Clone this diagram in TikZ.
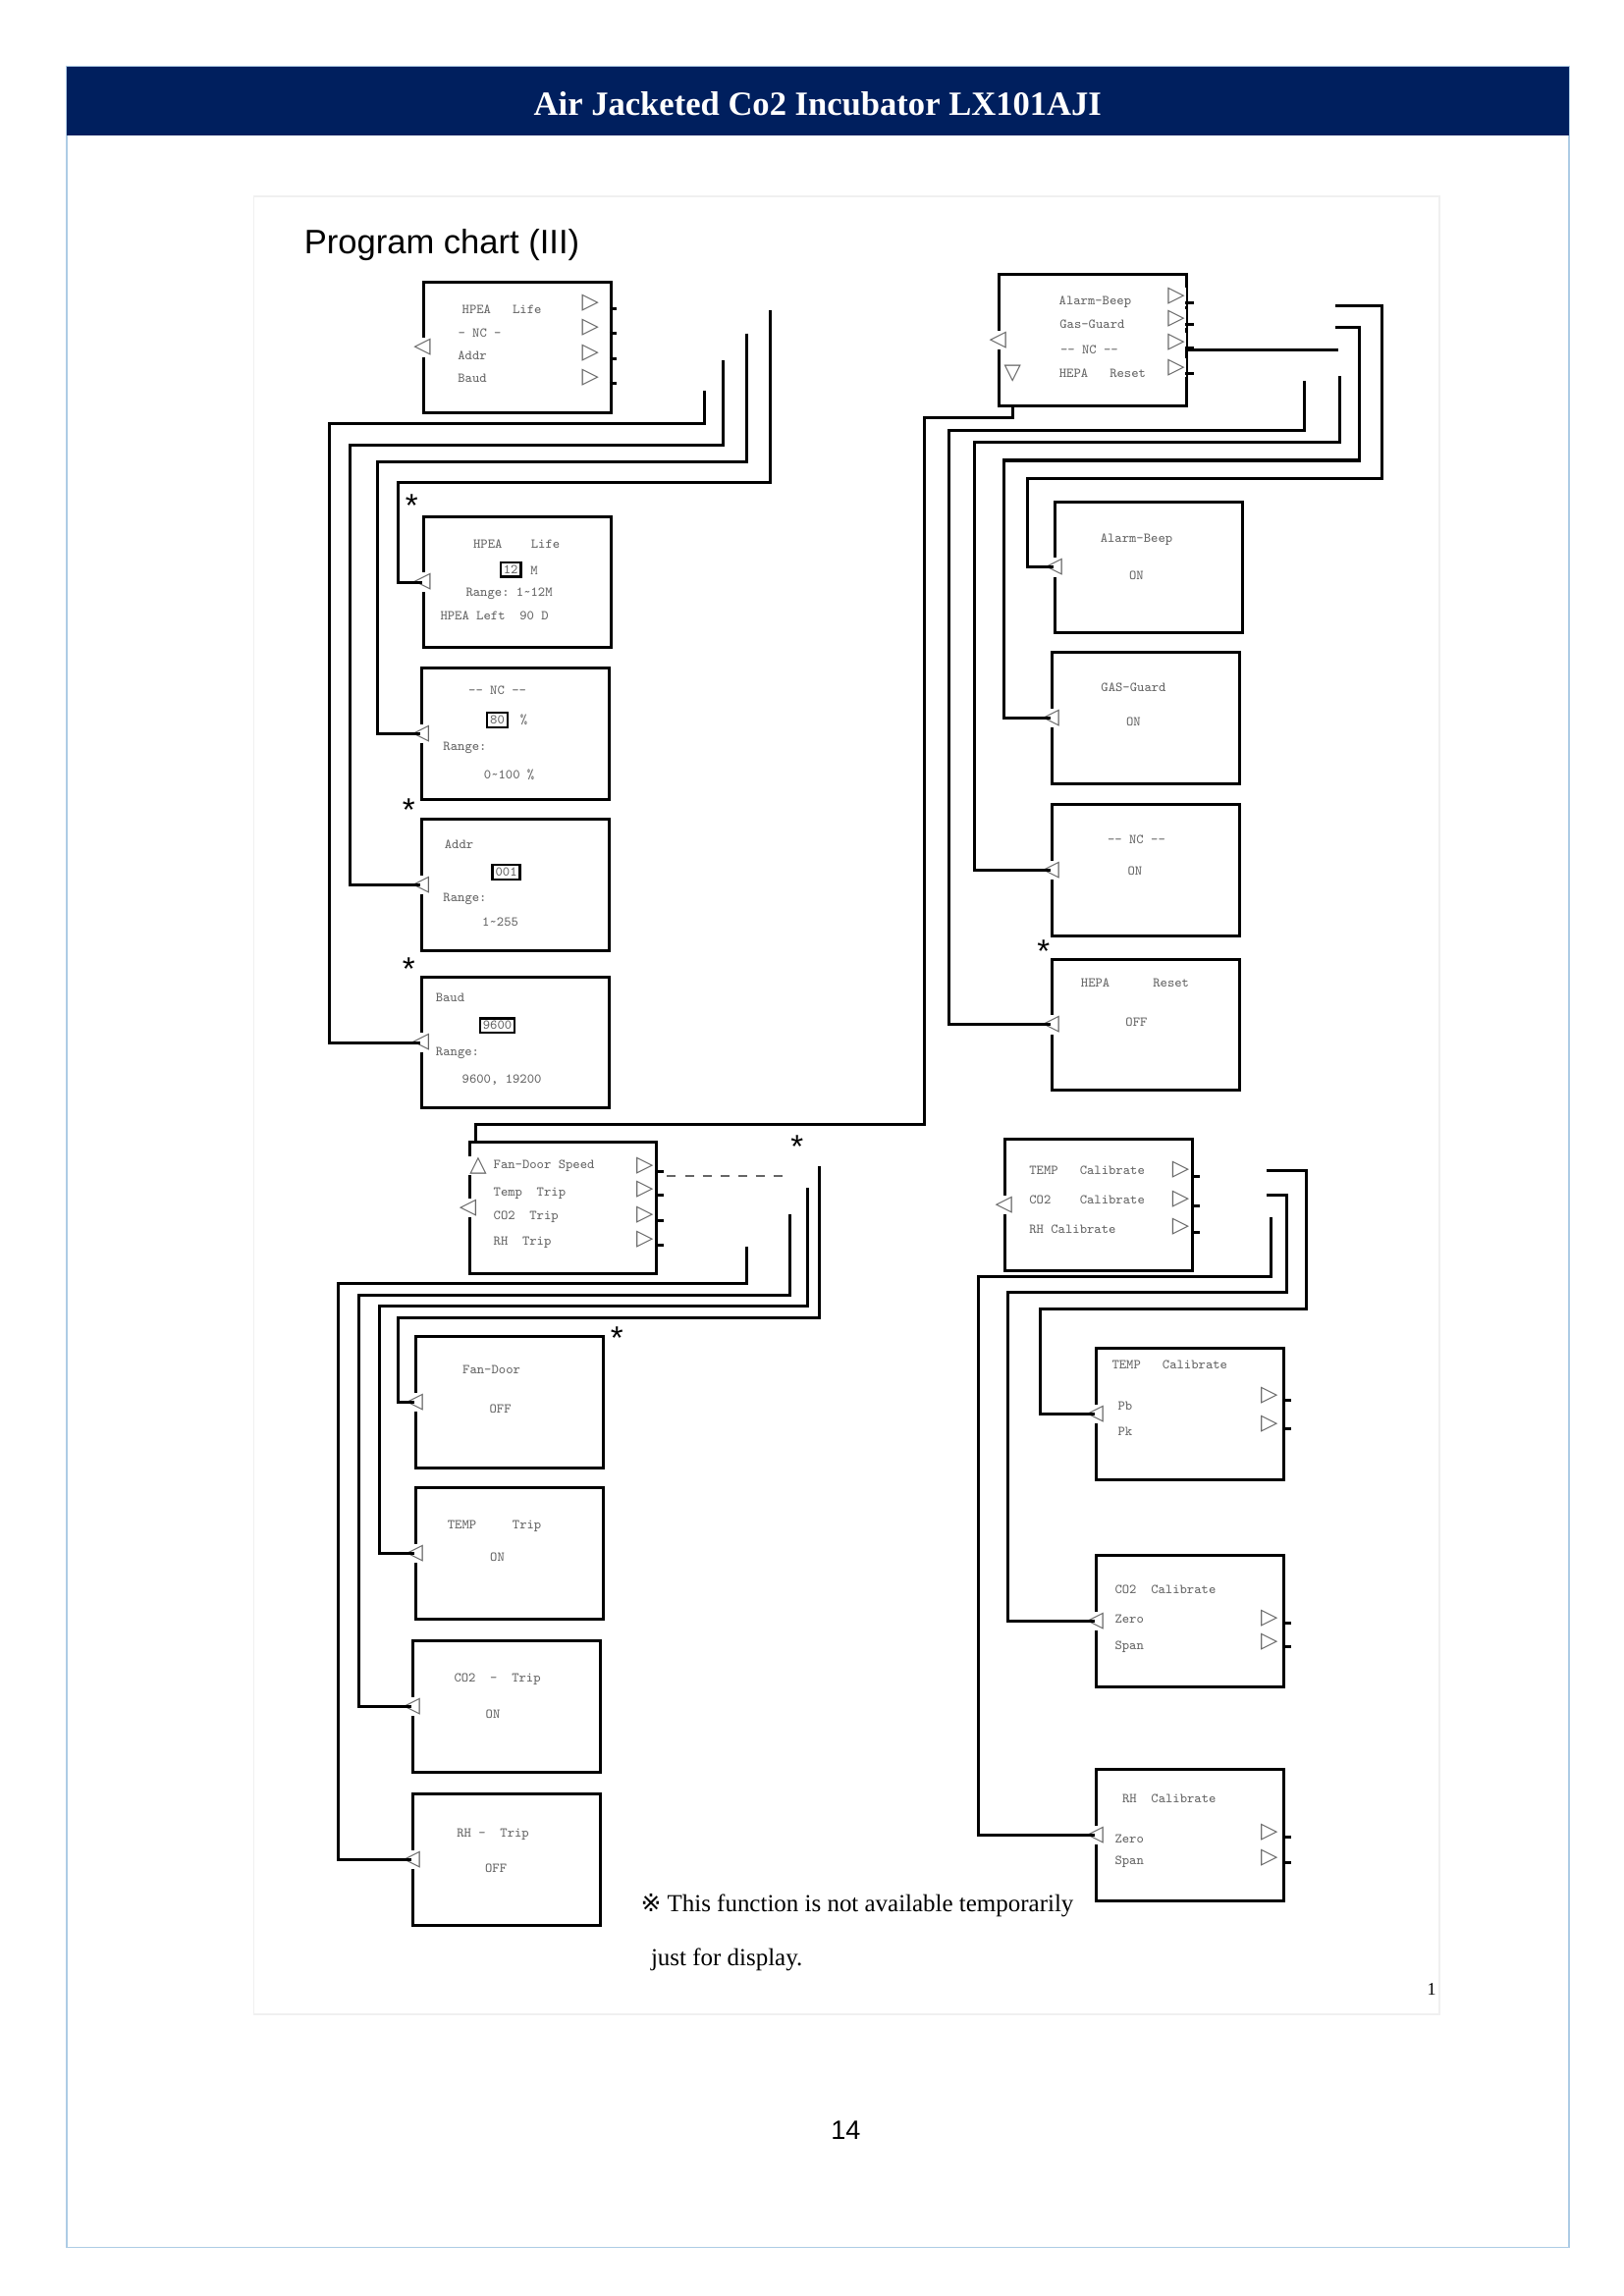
\documentclass[tikz,border=0pt]{standalone}
\usepackage{fontspec}
\setmainfont{Liberation Serif}
\setsansfont{Liberation Sans}
\newfontfamily\symfont{DejaVu Sans}
\usetikzlibrary{positioning}
\definecolor{navy}{rgb}{0.0,0.12,0.37}
\definecolor{pagerule}{rgb}{0.68,0.80,0.90}
\definecolor{lcdtext}{rgb}{0.40,0.40,0.40}
\tikzset{
  screen/.style={draw, line width=1pt, minimum width=63.5pt, minimum height=44.5pt, anchor=north west, inner sep=0pt},
  wire/.style={line width=1pt},
  lcd/.style={text=lcdtext, font=\fontsize{4.6}{5}\selectfont\ttfamily, inner sep=0pt},
  val/.style={draw, line width=0.8pt, lcd, inner sep=1pt, text=lcdtext},
  tri/.style={text=lcdtext, font=\fontsize{7.5}{7.5}\selectfont\symfont, inner sep=0.3pt, fill=white},
  star/.style={font=\fontsize{11}{11}\selectfont\sffamily, inner sep=0pt}
}
\begin{document}
\begin{tikzpicture}[x=0.5pt,y=-0.5pt]
\useasboundingbox (0,0) rectangle (1100,1556);
%% page frame and header
\draw[pagerule, line width=0.6pt] (45,45) rectangle (1063,1523);
\fill[navy] (45,45) rectangle (1063,92);
\node[text=white, font=\bfseries\fontsize{11.5}{12}\selectfont] (title) at (554,70) {Air Jacketed Co2 Incubator LX101AJI};
\draw[black!6, line width=0.6pt] (172,133) rectangle (975,1365);
\node[anchor=west, font=\sffamily\fontsize{11.5}{12}\selectfont] (chart) at (199,166) {Program chart (III)};
%% menu: HPEA
\node[screen] (m1) at (286,190) {};
\node[lcd] at (340,210) {HPEA\ \ \ Life};
\node[lcd] at (325,226) {- NC -};
\node[lcd] at (320,241) {Addr};
\node[lcd] at (320,256) {Baud};
\node[tri] at (m1.west) {◁};
\foreach \y in {205,222,239,256} {
  \node[tri] at (400,\y) {▷};
  \draw[wire] (413,\y+4) -- (418,\y+4);
}
\coordinate (m1a) at (522,210);
\coordinate (m1b) at (506,226);
\coordinate (m1c) at (490,244);
\coordinate (m1d) at (477,265);
%% HPEA sub screens
\node[screen] (b1) at (286,349) {};
\node[star] at (279,343) {*};
\node[lcd] at (350,369) {HPEA\ \ \ \ Life};
\node[val] at (346,386) {12};
\node[lcd] at (362,387) {M};
\node[lcd] at (345,402) {Range:\ 1\~{}12M};
\node[lcd] at (335,417) {HPEA\ Left\ \ 90 D};
\node[screen] (b2) at (285,452) {};
\node[lcd] at (337,468) {-- NC --};
\node[val] at (337,488) {80};
\node[lcd] at (355,488) {\%};
\node[lcd] at (315,507) {Range:};
\node[lcd] at (345,525) {0\~{}100 \%};
\node[screen] (b3) at (285,554) {};
\node[star] at (277,549) {*};
\node[lcd] at (311,572) {Addr};
\node[val] at (343,591) {001};
\node[lcd] at (315,609) {Range:};
\node[lcd] at (339,625) {1\~{}255};
\node[screen] (b4) at (285,661) {};
\node[star] at (277,657) {*};
\node[lcd] at (305,676) {Baud};
\node[val] at (337,695) {9600};
\node[lcd] at (310,714) {Range:};
\node[lcd] at (340,732) {9600, 19200};
\foreach \s in {b1,b2,b3,b4} \node[tri] at (\s.west) {◁};
\draw[wire] (m1a) |- (270,327) |- (b1.west);
\draw[wire] (m1b) |- (256,313) |- (b2.west);
\draw[wire] (m1c) |- (237,302) |- (b3.west);
\draw[wire] (m1d) |- (223,287) |- (b4.west);
%% menu: alarm
\node[screen] (m2) at (676,185) {};
\node[lcd] at (742,205) {Alarm-Beep};
\node[lcd] at (740,220) {Gas-Guard};
\node[lcd] at (738,237) {-- NC --};
\node[lcd] at (747,253) {HEPA\ \ \ Reset};
\node[tri] at (m2.west) {◁};
\node[tri] at (686,253) {▽};
\foreach \y in {201,216,232,249} {
  \node[tri] at (797,\y) {▷};
  \draw[wire] (803,\y+4) -- (809,\y+4);
}
\coordinate (m2a) at (905,207);
\coordinate (m2b) at (905,222);
\coordinate (m2c) at (908,255);
\coordinate (m2d) at (884,258);
\draw[wire] (803,237) -- (907,237);
\node[screen] (r1) at (714,339) {};
\node[lcd] at (770,366) {Alarm-Beep};
\node[lcd] at (770,390) {ON};
\node[screen] (r2) at (712,441) {};
\node[lcd] at (768,466) {GAS-Guard};
\node[lcd] at (768,489) {ON};
\node[screen] (r3) at (712,544) {};
\node[lcd] at (770,569) {-- NC --};
\node[lcd] at (769,590) {ON};
\node[screen] (r4) at (712,649) {};
\node[star] at (707,645) {*};
\node[lcd] at (769,666) {HEPA\ \ \ \ \ \ Reset};
\node[lcd] at (770,693) {OFF};
\foreach \s in {r1,r2,r3,r4} \node[tri] at (\s.west) {◁};
\draw[wire] (m2a) -| (936,324) -| (696,360) |- (r1.west);
\draw[wire] (m2b) -| (921,312) -| (680,460) |- (r2.west);
\draw[wire] (m2c) |- (660,300) |- (r3.west);
\draw[wire] (m2d) |- (643,292) |- (r4.west);
%% menu: trips
\node[screen] (m3) at (317,773) {};
\node[lcd, anchor=west] at (334,790) {Fan-Door Speed};
\node[lcd, anchor=west] at (334,809) {Temp\ \ Trip};
\node[lcd, anchor=west] at (334,825) {CO2\ \ Trip};
\node[lcd, anchor=west] at (334,842) {RH\ \ Trip};
\node[tri] at (324,790) {△};
\node[tri] at (m3.west) {◁};
\foreach \y in {790,806,823,840} {
  \node[tri] at (437,\y) {▷};
  \draw[wire] (444,\y+4) -- (450,\y+4);
}
\draw[lcdtext, dashed, line width=0.5pt] (452,797) -- (532,797);
\node[star] at (540,777) {*};
\draw[wire] (m2.south west) ++(10,0) |- (626,283) |- (322,762) -- (m3.north west -| 322,0);
\coordinate (m3a) at (555,790);
\coordinate (m3b) at (547,805);
\coordinate (m3c) at (535,823);
\coordinate (m3d) at (506,845);
\node[screen] (l1) at (281,905) {};
\node[star] at (418,907) {*};
\node[lcd] at (333,928) {Fan-Door};
\node[lcd] at (339,955) {OFF};
\node[screen] (l2) at (281,1007) {};
\node[lcd] at (335,1034) {TEMP\ \ \ \ \ Trip};
\node[lcd] at (337,1055) {ON};
\node[screen] (l3) at (279,1111) {};
\node[lcd] at (337,1138) {CO2\ \ -\ \ Trip};
\node[lcd] at (334,1162) {ON};
\node[screen] (l4) at (279,1215) {};
\node[lcd] at (334,1243) {RH -\ \ Trip};
\node[lcd] at (336,1266) {OFF};
\foreach \s in {l1,l2,l3,l4} \node[tri] at (\s.west) {◁};
\draw[wire] (m3a) |- (270,893) |- (l1.west);
\draw[wire] (m3b) |- (257,885) |- (l2.west);
\draw[wire] (m3c) |- (243,878) |- (l3.west);
\draw[wire] (m3d) |- (229,870) |- (l4.west);
%% menu: calibrate
\node[screen] (m4) at (680,771) {};
\node[lcd, anchor=west] at (697,793) {TEMP\ \ \ Calibrate};
\node[lcd, anchor=west] at (697,813) {CO2\ \ \ \ Calibrate};
\node[lcd, anchor=west] at (697,833) {RH Calibrate};
\node[tri] at (m4.west) {◁};
\foreach \y in {793,813,831} {
  \node[tri] at (800,\y) {▷};
  \draw[wire] (807,\y+4) -- (813,\y+4);
}
\coordinate (m4a) at (858,793);
\coordinate (m4b) at (858,810);
\coordinate (m4c) at (861,825);
\node[screen] (c1) at (742,913) {};
\node[lcd, anchor=west] at (753,925) {TEMP\ \ \ Calibrate};
\node[lcd, anchor=west] at (757,953) {Pb};
\node[lcd, anchor=west] at (757,970) {Pk};
\node[screen] (c2) at (742,1053) {};
\node[lcd, anchor=west] at (755,1077) {CO2\ \ Calibrate};
\node[lcd, anchor=west] at (755,1097) {Zero};
\node[lcd, anchor=west] at (755,1116) {Span};
\node[screen] (c3) at (742,1198) {};
\node[lcd, anchor=west] at (760,1219) {RH\ \ Calibrate};
\node[lcd, anchor=west] at (755,1246) {Zero};
\node[lcd, anchor=west] at (755,1262) {Span};
\foreach \s in {c1,c2,c3} \node[tri] at (\s.west) {◁};
\foreach \y in {946,965,1097,1113,1242,1259} {
  \node[tri] at (860,\y) {▷};
  \draw[wire] (870,\y+3) -- (875,\y+3);
}
\draw[wire] (m4a) -| (885,887) -| (705,920) |- (c1.west);
\draw[wire] (m4b) -| (872,876) -| (683,1000) |- (c2.west);
\draw[wire] (m4c) |- (663,865) |- (c3.west);
%% notes
\node[anchor=west, font=\fontsize{8.3}{10}\selectfont] (note) at (427,1291) {{\symfont ※}\ This function is not available temporarily};
\node[anchor=west, font=\fontsize{8.3}{10}\selectfont] (note2) at (434,1328) {just for display.};
\node[font=\fontsize{6}{6}\selectfont] (pg) at (970,1348) {1};
\node[font=\sffamily\fontsize{9}{10}\selectfont] (num) at (573,1444) {14};
\end{tikzpicture}
\end{document}
